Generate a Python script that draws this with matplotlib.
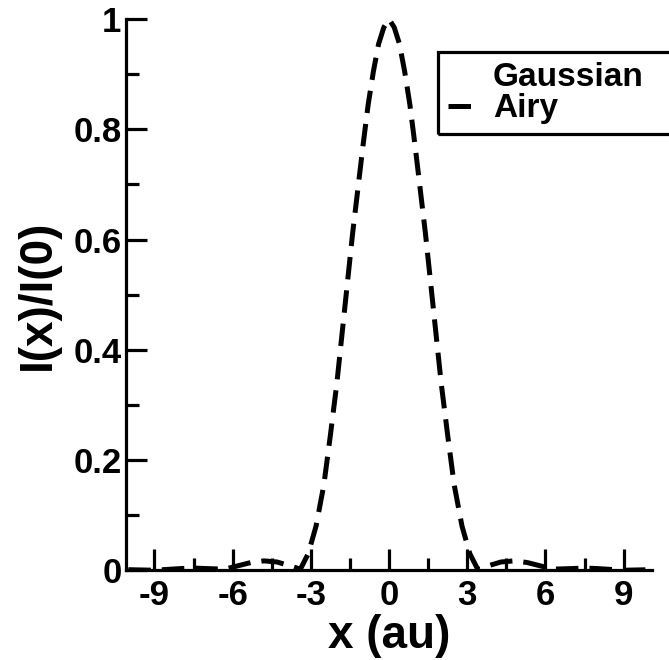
import numpy as np
from matplotlib import pyplot as plt, ticker as plticker
from matplotlib.lines import Line2D
from matplotlib.patches import Rectangle

# Airy profile (right half, mirrored for the left)
x_half = [0.0, 0.2, 0.4, 0.6, 0.8, 1.0, 1.2, 1.4, 1.6, 1.8, 2.0, 2.25, 2.5, 2.8,
          3.1, 3.4, 3.8, 4.3, 4.8, 5.3, 5.8, 6.3, 7.0, 7.5, 8.0, 9.0, 10.0]
airy_half = [1.0, 0.985, 0.955, 0.905, 0.845, 0.77, 0.69, 0.61, 0.52, 0.43, 0.34,
             0.245, 0.155, 0.08, 0.03, 0.002, 0.008, 0.015, 0.017, 0.014, 0.008,
             0.002, 0.003, 0.004, 0.003, 0.0, 0.001]

x_ticks = [-9, -6, -3, 0, 3, 6, 9]
y_ticks = [0, 0.2, 0.4, 0.6, 0.8, 1]
y_tick_labels = ["0", "0.2", "0.4", "0.6", "0.8", "1"]
legend_labels = ["Gaussian", "Airy"]

x_vals = np.concatenate([-np.array(x_half[:0:-1]), np.array(x_half)])
airy_vals = np.concatenate([np.array(airy_half[:0:-1]), np.array(airy_half)])

plt.rcParams["font.family"] = ["Liberation Sans", "DejaVu Sans"]
plt.rcParams["font.weight"] = "bold"

fig = plt.figure(figsize=(6.69, 6.60), dpi=100)
ax = fig.add_axes([0.188, 0.136, 0.787, 0.835])

ax.plot(x_vals, airy_vals, color="black", linewidth=3.6, linestyle=(0, (4.5, 2.2)),
        solid_capstyle="butt", dash_capstyle="butt")

ax.set_xlim(-10.1, 10.1)
ax.set_ylim(0, 1.0)

for side in ["top", "right"]:
    ax.spines[side].set_visible(False)
for side in ["left", "bottom"]:
    ax.spines[side].set_linewidth(2.3)

ax.set_xticks(x_ticks)
ax.set_xticklabels([str(t) for t in x_ticks])
ax.set_yticks(y_ticks)
ax.set_yticklabels(y_tick_labels)
ax.xaxis.set_minor_locator(plticker.MultipleLocator(1.5))
ax.yaxis.set_minor_locator(plticker.MultipleLocator(0.1))
ax.tick_params(which="major", direction="in", length=15, width=2.3, labelsize=25)
ax.tick_params(which="minor", direction="in", length=9, width=2.3)
ax.tick_params(axis="x", which="major", pad=6)
ax.tick_params(axis="y", which="major", pad=3)

ax.set_xlabel("x (au)", fontsize=33, fontweight="bold", labelpad=2)
ax.set_ylabel("I(x)/I(0)", fontsize=33, fontweight="bold", labelpad=10)

handles = [
    Line2D([], [], linestyle="none"),
    Line2D([], [], color="black", linewidth=3.6, linestyle=(0, (4.5, 2.2))),
]
leg = ax.legend(handles, legend_labels, loc="upper left", bbox_to_anchor=(0.593, 0.94),
                borderaxespad=0, fontsize=24, handlelength=0.8, handletextpad=0.55,
                borderpad=0.3, labelspacing=0.0, frameon=False)
for t in leg.get_texts():
    t.set_fontweight("bold")

# the legend box in the original runs past the right edge of the figure
fig.canvas.draw()
bb = leg.get_window_extent().transformed(fig.transFigure.inverted())
box = Rectangle((bb.x0, bb.y0), 1.05 - bb.x0, bb.height, transform=fig.transFigure,
                fill=False, edgecolor="black", linewidth=2.3, clip_on=False)
fig.add_artist(box)

fig.savefig("out.png", dpi=100)
